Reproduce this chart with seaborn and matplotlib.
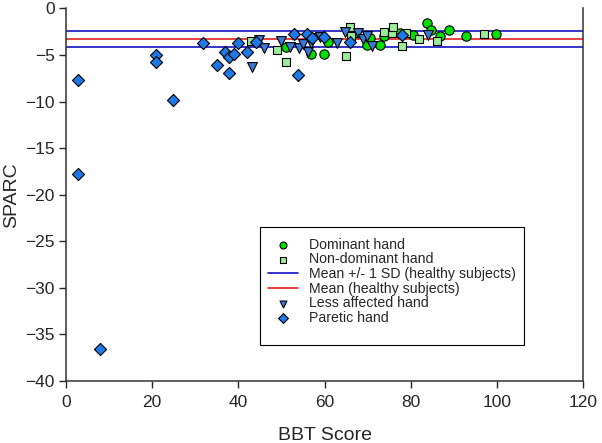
import matplotlib
matplotlib.use("Agg")
import matplotlib.pyplot as plt
from matplotlib.patches import Rectangle
import seaborn as sns
import pandas as pd

# BBT score vs SPARC
dom_x = [51, 56.8, 59.9, 60.8, 66.8, 69.8, 70.6, 72.9, 73.7, 77.5, 80.6, 83.8, 84.8, 86.8, 88.9, 92.8, 99.9]
dom_y = [-4.1, -4.9, -4.9, -3.6, -2.6, -3.9, -3.2, -3.9, -3.0, -2.6, -2.9, -1.6, -2.3, -3.0, -2.3, -3.0, -2.7]

nondom_x = [43, 48.9, 51, 65, 65.9, 66.2, 73.8, 75.6, 75.8, 77.9, 78.9, 81.9, 86, 97]
nondom_y = [-3.5, -4.5, -5.8, -5.1, -2.0, -3.0, -2.5, -2.6, -2.0, -4.0, -2.6, -3.3, -3.5, -2.7]

less_x = [43.1, 44.9, 46, 50, 52, 54, 54.9, 56.2, 56.8, 57.4, 58.9, 62.8, 64.7, 67.8, 69, 69.9, 70.9, 84]
less_y = [-6.3, -3.4, -4.3, -3.5, -4.1, -4.3, -3.8, -4.7, -3.7, -3.2, -3.1, -3.7, -2.5, -2.6, -3.3, -2.95, -4.0, -2.9]

par_x = [2.8, 2.8, 7.9, 20.9, 20.9, 24.8, 31.8, 35, 36.9, 37.9, 37.9, 39, 40, 41.9, 44, 53, 53.9, 56, 57, 59.9, 65.9, 77.9]
par_y = [-7.7, -17.8, -36.6, -5.0, -5.7, -9.8, -3.7, -6.1, -4.7, -5.2, -6.9, -4.9, -3.7, -4.7, -3.6, -2.7, -7.1, -2.8, -3.2, -3.1, -3.6, -2.9]

healthy_mean = -3.3
healthy_sd = 0.87

sns.set_style("ticks")
plt.rcParams['font.family'] = ['Liberation Sans', 'DejaVu Sans']

fig = plt.figure(figsize=(6.02, 4.43), dpi=100)
ax = fig.add_axes([0.1096, 0.14, 0.859, 0.841])

dom = pd.DataFrame({"x": dom_x, "y": dom_y})
nondom = pd.DataFrame({"x": nondom_x, "y": nondom_y})
less = pd.DataFrame({"x": less_x, "y": less_y})
par = pd.DataFrame({"x": par_x, "y": par_y})

kw = dict(edgecolor="black", linewidth=0.8, zorder=3)
sns.scatterplot(data=dom, x="x", y="y", ax=ax, marker="o", s=45, color="#00e000",
                label="Dominant hand", **kw)
sns.scatterplot(data=nondom, x="x", y="y", ax=ax, marker="s", s=40, color="#99ee99",
                label="Non-dominant hand", **kw)
ax.axhline(healthy_mean + healthy_sd, color="#1010c0", lw=1.2, zorder=2,
           label="Mean +/- 1 SD (healthy subjects)")
ax.axhline(healthy_mean - healthy_sd, color="#1010c0", lw=1.2, zorder=2)
ax.axhline(healthy_mean, color="#e02020", lw=1.2, zorder=2, label="Mean (healthy subjects)")
sns.scatterplot(data=less, x="x", y="y", ax=ax, marker="v", s=50, color="#3c7ad8",
                label="Less affected hand", **kw)
sns.scatterplot(data=par, x="x", y="y", ax=ax, marker="D", s=38, color="#1e78e6",
                label="Paretic hand", **kw)

ax.set_xlim(0, 120)
ax.set_ylim(-40, 0)
ax.set_xticks(range(0, 121, 20))
ax.set_yticks(range(-40, 1, 5))
ax.tick_params(labelsize=12.5, length=5, width=1, direction="out", right=False, top=False)
ax.tick_params(axis="x", pad=5)
ax.tick_params(axis="y", pad=3)
ax.set_xlabel("BBT Score", fontsize=14, labelpad=12)
ax.set_ylabel("SPARC", fontsize=14, labelpad=4)
for side in ["left", "bottom", "right"]:
    ax.spines[side].set_visible(True)
    ax.spines[side].set_color("#333333")
    ax.spines[side].set_linewidth(1.1)
ax.spines["top"].set_visible(False)

# legend frame drawn separately, it is roomier than the entries
ax.add_patch(Rectangle((0.375, 0.097), 0.511, 0.316, transform=ax.transAxes,
                       facecolor="white", edgecolor="black", linewidth=0.8, zorder=4))
leg = ax.legend(loc="upper left", bbox_to_anchor=(0.391, 0.385), frameon=False,
                fontsize=10.2, borderaxespad=0, borderpad=0,
                handlelength=2.1, handletextpad=0.78, labelspacing=0.05)
leg.set_zorder(5)
for h in leg.legend_handles:
    if hasattr(h, "set_sizes"):
        h.set_sizes([25])

fig.savefig("out.png", dpi=100)
